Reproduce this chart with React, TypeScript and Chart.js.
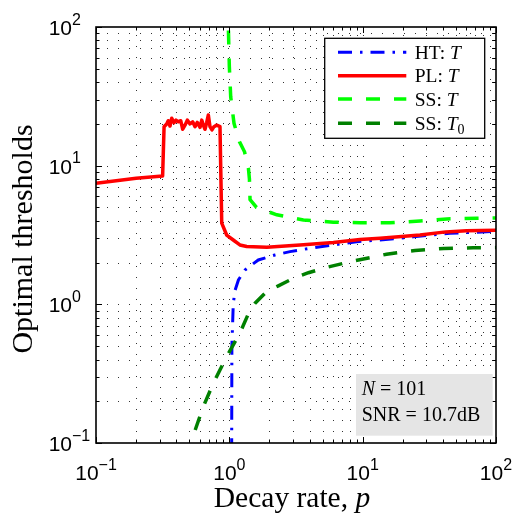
import React, { useEffect, useRef } from 'react';
import { Chart, registerables } from 'chart.js';
Chart.register(...registerables);

// ---- data ----
const htX = [1.04, 1.045, 1.07, 1.1, 1.17, 1.31, 1.65, 2.2, 2.85, 4.27, 6.03, 9.0, 13.5, 24, 45, 85, 100];
const htY = [0.05, 0.5, 1.0, 1.25, 1.5, 1.77, 2.09, 2.27, 2.4, 2.56, 2.68, 2.83, 2.91, 3.07, 3.25, 3.34, 3.36];

const plX = [0.1, 0.2, 0.316, 0.324, 0.339, 0.348, 0.359, 0.37, 0.385, 0.398, 0.414, 0.432, 0.447, 0.465, 0.484, 0.507, 0.531, 0.553, 0.575, 0.603, 0.621, 0.638, 0.657, 0.676, 0.696, 0.716, 0.741, 0.767, 0.804, 0.851, 0.877, 0.955, 1.07, 1.2, 1.35, 1.91, 3.39, 6.03, 9.55, 13.5, 26.9, 42, 60, 100];
const plY = [7.47, 8.1, 8.43, 19.1, 20.0, 21.1, 19.3, 22.0, 20.4, 21.3, 20.7, 21.1, 18.3, 19.6, 21.3, 20.0, 20.7, 19.1, 20.5, 18.9, 21.3, 19.6, 18.3, 20.4, 23.2, 19.1, 18.1, 19.1, 19.6, 19.1, 3.85, 3.16, 2.91, 2.68, 2.61, 2.58, 2.68, 2.79, 2.93, 3.0, 3.16, 3.33, 3.4, 3.42];

const ssX = [0.975, 0.983, 1.0, 1.024, 1.084, 1.19, 1.3, 1.39, 1.415, 1.43, 1.6, 2.27, 3.59, 6.03, 9.55, 16, 26.9, 42.7, 71.8, 100];
const ssY = [150, 100, 52, 31.4, 20.2, 14.9, 12.6, 9.6, 8.0, 5.7, 5.0, 4.42, 4.06, 3.91, 3.88, 3.88, 3.99, 4.13, 4.18, 4.2];

const ss0X = [0.473, 0.513, 0.638, 0.759, 0.955, 1.2, 1.43, 1.56, 1.91, 2.33, 3.02, 3.92, 5.38, 8.5, 15.1, 24.7, 40.4, 67.6, 100];
const ss0Y = [0.08, 0.1, 0.183, 0.27, 0.42, 0.62, 0.91, 1.02, 1.24, 1.36, 1.54, 1.69, 1.85, 2.05, 2.3, 2.44, 2.53, 2.56, 2.57];

const decades = [0.1, 1, 10, 100];
const exponents = ['\u22121', '0', '1', '2'];

const legendNames = ['HT: ', 'PL: ', 'SS: ', 'SS: '];
const legendVars = ['T', 'T', 'T', 'T'];
const legendSubs = ['', '', '', '0'];

const xTitle = 'Decay rate, ';
const xTitleVar = 'p';
const yTitle = 'Optimal thresholds';
const noteVar = 'N';
const noteLine1 = ' = 101';
const noteLine2 = 'SNR = 10.7dB';

const SERIF = '"Liberation Serif", "Times New Roman", serif';
const SANS = '"Liberation Sans", Arial, Helvetica, sans-serif';

type Seg = { t: string; font: string; dy?: number };

function drawSegs(ctx: CanvasRenderingContext2D, segs: Seg[], x: number, y: number, align: 'left' | 'center' | 'right') {
  ctx.textAlign = 'left';
  ctx.textBaseline = 'alphabetic';
  let total = 0;
  const widths = segs.map((s) => {
    ctx.font = s.font;
    const w = ctx.measureText(s.t).width;
    total += w;
    return w;
  });
  let cx = align === 'left' ? x : align === 'center' ? x - total / 2 : x - total;
  segs.forEach((s, i) => {
    ctx.font = s.font;
    ctx.fillText(s.t, cx, y + (s.dy || 0));
    cx += widths[i];
  });
}

function logTicks(vals: number[]) {
  const out: number[] = [];
  for (let d = 0; d < vals.length - 1; d++) {
    for (let k = 1; k <= 9; k++) out.push(vals[d] * k);
  }
  out.push(vals[vals.length - 1]);
  return out;
}

const gridPlugin = {
  id: 'matlabGrid',
  beforeDatasetsDraw(chart: any) {
    const { ctx, chartArea: a, scales } = chart;
    const ticks = logTicks(decades);
    ctx.save();
    ctx.strokeStyle = 'rgba(0,0,0,0.8)';
    ctx.lineWidth = 1;
    ctx.setLineDash([1, 10]);
    ticks.forEach((v) => {
      const px = Math.round(scales.x.getPixelForValue(v)) + 0.5;
      if (px > a.left + 2 && px < a.right - 2) {
        ctx.beginPath();
        ctx.moveTo(px, a.bottom);
        ctx.lineTo(px, a.top);
        ctx.stroke();
      }
      const py = Math.round(scales.y.getPixelForValue(v)) + 0.5;
      if (py > a.top + 2 && py < a.bottom - 2) {
        ctx.beginPath();
        ctx.moveTo(a.left, py);
        ctx.lineTo(a.right, py);
        ctx.stroke();
      }
    });
    ctx.restore();
  },
};

const overlayPlugin = {
  id: 'matlabOverlay',
  afterDatasetsDraw(chart: any) {
    const { ctx, chartArea: a, scales } = chart;
    ctx.save();
    // frame
    ctx.setLineDash([]);
    ctx.strokeStyle = '#000';
    ctx.lineWidth = 1.6;
    ctx.strokeRect(a.left, a.top, a.right - a.left, a.bottom - a.top);
    // inward ticks
    const ticks = logTicks(decades);
    ctx.lineWidth = 1;
    ticks.forEach((v) => {
      const major = decades.includes(v);
      const len = major ? 6 : 3.5;
      const px = Math.round(scales.x.getPixelForValue(v)) + 0.5;
      const py = Math.round(scales.y.getPixelForValue(v)) + 0.5;
      ctx.beginPath();
      ctx.moveTo(px, a.bottom); ctx.lineTo(px, a.bottom - len);
      ctx.moveTo(px, a.top); ctx.lineTo(px, a.top + len);
      ctx.moveTo(a.left, py); ctx.lineTo(a.left + len, py);
      ctx.moveTo(a.right, py); ctx.lineTo(a.right - len, py);
      ctx.stroke();
    });

    // legend
    const lx = a.right - 171.3;
    const ly = a.top + 11.3;
    ctx.fillStyle = '#fff';
    ctx.fillRect(lx, ly, 160, 100);
    ctx.strokeStyle = '#000';
    ctx.lineWidth = 1.3;
    ctx.strokeRect(lx, ly, 160, 100);
    const rows = [25.3, 48.7, 72, 96.3];
    chart.data.datasets.forEach((ds: any, i: number) => {
      const cy = a.top + rows[i];
      ctx.save();
      ctx.strokeStyle = ds.borderColor;
      ctx.lineWidth = ds.borderWidth;
      ctx.setLineDash(ds.borderDash || []);
      ctx.lineCap = 'butt';
      ctx.beginPath();
      ctx.moveTo(lx + 13.3, cy);
      ctx.lineTo(lx + 81.6, cy);
      ctx.stroke();
      ctx.restore();
      ctx.fillStyle = '#000';
      const segs: Seg[] = [
        { t: legendNames[i], font: `19.5px ${SERIF}` },
        { t: legendVars[i], font: `italic 19.5px ${SERIF}` },
      ];
      if (legendSubs[i]) segs.push({ t: legendSubs[i], font: `14px ${SERIF}`, dy: 4 });
      drawSegs(ctx, segs, lx + 90, cy + 6.5, 'left');
    });

    // annotation box
    const bx = a.right - 140;
    const by = a.bottom - 69;
    ctx.fillStyle = '#e5e5e5';
    ctx.fillRect(bx, by, 136.7, 61.7);
    ctx.fillStyle = '#000';
    drawSegs(ctx, [
      { t: noteVar, font: `italic 20px ${SERIF}` },
      { t: noteLine1, font: `20px ${SERIF}` },
    ], bx + 5.7, by + 21, 'left');
    drawSegs(ctx, [{ t: noteLine2, font: `20px ${SERIF}` }], bx + 5.7, by + 47, 'left');

    // tick labels
    ctx.fillStyle = '#000';
    decades.forEach((v, i) => {
      const px = scales.x.getPixelForValue(v);
      drawSegs(ctx, [
        { t: '10', font: `21px ${SANS}` },
        { t: exponents[i], font: `16px ${SANS}`, dy: -10.5 },
      ], px, a.bottom + 37, 'center');
      const py = scales.y.getPixelForValue(v);
      drawSegs(ctx, [{ t: '10', font: `21px ${SANS}` }], a.left - 24, py + 8, 'right');
      drawSegs(ctx, [{ t: exponents[i], font: `16px ${SANS}` }], a.left - 24, py + 8 - 10.5, 'left');
    });

    // axis titles
    drawSegs(ctx, [
      { t: xTitle, font: `29.5px ${SERIF}` },
      { t: xTitleVar, font: `italic 29.5px ${SERIF}` },
    ], (a.left + a.right) / 2 - 4, a.bottom + 64, 'center');
    ctx.save();
    ctx.translate(32, (a.top + a.bottom) / 2 + 4);
    ctx.rotate(-Math.PI / 2);
    drawSegs(ctx, [{ t: yTitle, font: `30px ${SERIF}` }], 0, 0, 'center');
    ctx.restore();

    ctx.restore();
  },
};

const pts = (xs: number[], ys: number[]) => xs.map((x, i) => ({ x, y: ys[i] }));

export default function App() {
  const ref = useRef<HTMLCanvasElement | null>(null);
  useEffect(() => {
    if (!ref.current) return;
    const chart = new Chart(ref.current, {
      type: 'line',
      data: {
        datasets: [
          { label: 'HT: T', data: pts(htX, htY), borderColor: '#0000ff', borderWidth: 3, borderDash: [14, 8, 2.5, 8], order: 4 },
          { label: 'PL: T', data: pts(plX, plY), borderColor: '#ff0000', borderWidth: 3.5, order: 3, borderJoinStyle: 'round' },
          { label: 'SS: T', data: pts(ssX, ssY), borderColor: '#00ff00', borderWidth: 3.5, borderDash: [14, 14], order: 2 },
          { label: 'SS: T0', data: pts(ss0X, ss0Y), borderColor: '#008000', borderWidth: 3.5, borderDash: [14, 14], order: 1 },
        ].map((d: any) => ({ ...d, fill: false, pointRadius: 0, tension: 0, clip: 0, borderCapStyle: 'butt' })),
      },
      options: {
        responsive: false,
        maintainAspectRatio: false,
        animation: false,
        events: [],
        layout: { padding: { left: 96, top: 27, right: 21, bottom: 75 } },
        scales: {
          x: { type: 'logarithmic', min: 0.1, max: 100, display: false },
          y: { type: 'logarithmic', min: 0.1, max: 100, display: false },
        },
        plugins: { legend: { display: false }, tooltip: { enabled: false } },
      } as any,
      plugins: [gridPlugin, overlayPlugin],
    });
    return () => chart.destroy();
  }, []);
  return (
    <div style={{ position: 'absolute', left: 0, top: 0, width: 517, height: 518, background: '#fff' }}>
      <canvas ref={ref} width={517} height={518} style={{ display: 'block' }} />
    </div>
  );
}
